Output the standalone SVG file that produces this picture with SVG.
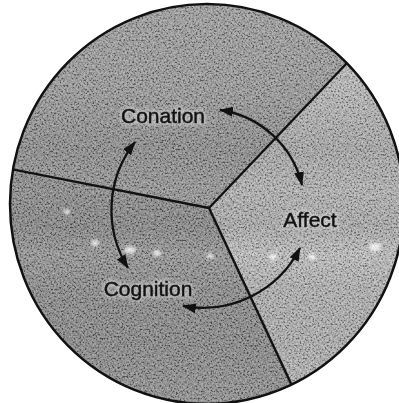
<svg xmlns="http://www.w3.org/2000/svg" width="399" height="403" viewBox="0 0 399 403">
<defs>
  <style>
    .lbl{font-family:"Liberation Sans",Arial,sans-serif;font-size:21px;fill:#111;stroke:#111;stroke-width:0.45;text-anchor:middle}
    .halo{font-family:"Liberation Sans",Arial,sans-serif;font-size:21px;fill:none;stroke:#e8e8e8;stroke-width:5;stroke-linejoin:round;opacity:0.4;text-anchor:middle}
    .div{stroke:#111;stroke-width:2.4;fill:none}
    .arr{stroke:#111;stroke-width:2.3;fill:none;marker-start:url(#ah);marker-end:url(#ah)}
    .spot{fill:#fff;opacity:0.75}
  </style>
  <clipPath id="disc"><ellipse cx="207" cy="204" rx="197" ry="200"/></clipPath>
  <marker id="ah" markerUnits="userSpaceOnUse" markerWidth="14" markerHeight="10" refX="13" refY="5" orient="auto-start-reverse">
    <path d="M0,0 L14,5 L0,10 z" fill="#111"/>
  </marker>
  <filter id="grain" filterUnits="userSpaceOnUse" x="0" y="0" width="399" height="403">
    <feTurbulence type="fractalNoise" baseFrequency="0.55" numOctaves="2" seed="7"/>
    <feColorMatrix type="matrix" values="2.4 0 0 0 -0.7  2.4 0 0 0 -0.7  2.4 0 0 0 -0.7  0 0 0 0 0.36"/>
  </filter>
  <filter id="blur" x="-50%" y="-50%" width="200%" height="200%"><feGaussianBlur stdDeviation="1.8"/></filter>
  <filter id="soft" x="-20%" y="-20%" width="140%" height="140%"><feGaussianBlur stdDeviation="1.5"/></filter>
  <linearGradient id="band" x1="0" y1="0" x2="0" y2="403" gradientUnits="userSpaceOnUse">
    <stop offset="0" stop-color="#000" stop-opacity="0"/>
    <stop offset="0.22" stop-color="#000" stop-opacity="0.04"/>
    <stop offset="0.37" stop-color="#000" stop-opacity="0.16"/>
    <stop offset="0.47" stop-color="#000" stop-opacity="0.08"/>
    <stop offset="0.56" stop-color="#000" stop-opacity="0.14"/>
    <stop offset="0.63" stop-color="#000" stop-opacity="0.0"/>
    <stop offset="0.72" stop-color="#000" stop-opacity="0.1"/>
    <stop offset="0.85" stop-color="#000" stop-opacity="0.12"/>
    <stop offset="1" stop-color="#000" stop-opacity="0.04"/>
  </linearGradient>
</defs>
<rect width="399" height="403" fill="#fff"/>
<g clip-path="url(#disc)">
  <g id="conation">
    <polygon points="209,208 -20,163 -20,-20 426,-20" fill="#8f8f8f"/>
  </g>
  <g id="affect">
    <polygon points="209,208 426,-20 430,-20 430,420 308,420" fill="#b6b6b6"/>
  </g>
  <g id="cognition">
    <polygon points="209,208 308,420 -20,420 -20,163" fill="#838383"/>
  </g>
  <rect width="399" height="403" fill="url(#band)"/>
  <rect width="399" height="403" filter="url(#grain)"/>
  <g filter="url(#blur)">
    <ellipse class="spot" cx="67" cy="212" rx="3" ry="2.5"/>
    <ellipse class="spot" cx="95" cy="243" rx="4" ry="3"/>
    <ellipse class="spot" cx="130" cy="250" rx="6" ry="3.5"/>
    <ellipse class="spot" cx="157" cy="253" rx="4" ry="3"/>
    <ellipse class="spot" cx="210" cy="256" rx="3.5" ry="2.5"/>
    <ellipse class="spot" cx="273" cy="257" rx="4" ry="3"/>
    <ellipse class="spot" cx="312" cy="257" rx="4" ry="3"/>
    <ellipse class="spot" cx="375" cy="247" rx="6" ry="4"/>
  </g>
  <g id="dividers">
    <line class="div" x1="209" y1="208" x2="-20" y2="163"/>
    <line class="div" x1="209" y1="208" x2="426" y2="-20"/>
    <line class="div" x1="209" y1="208" x2="308" y2="420"/>
  </g>
</g>
<ellipse cx="207" cy="204" rx="197" ry="200" fill="none" stroke="#111" stroke-width="2.5"/>
<g id="labels">
  <g filter="url(#soft)">
    <text class="halo" x="163" y="123">Conation</text>
    <text class="halo" x="310" y="227">Affect</text>
    <text class="halo" x="148" y="296">Cognition</text>
  </g>
  <text class="lbl" x="163" y="123">Conation</text>
  <text class="lbl" x="310" y="227">Affect</text>
  <text class="lbl" x="148" y="296">Cognition</text>
</g>
<g id="connectors">
  <path class="arr" d="M220,110 A99,99 0 0 1 302,185"/>
  <path class="arr" d="M135,142 A110,110 0 0 0 128,268"/>
  <path class="arr" d="M183,306 A109,109 0 0 0 300,248"/>
</g>
</svg>
